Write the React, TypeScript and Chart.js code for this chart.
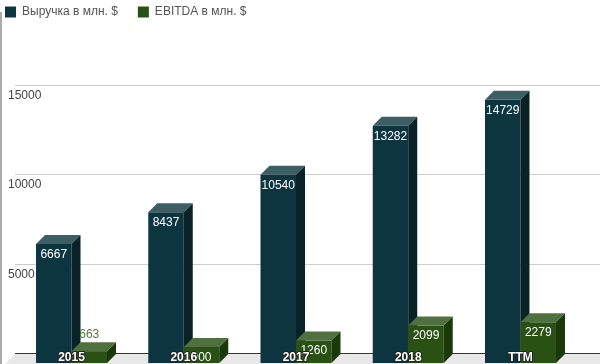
import { useEffect, useRef } from 'react';
import { Chart, registerables } from 'chart.js';

Chart.register(...registerables);

const categories = ['2015', '2016', '2017', '2018', 'TTM'];
const revenue = [6667, 8437, 10540, 13282, 14729];
const ebitda = [663, 900, 1260, 2099, 2279];
const seriesNames = ['Выручка в млн. $', 'EBITDA в млн. $'];
const yMax = 15000;
const yStep = 5000;

const FONT = '"Liberation Sans", Arial, sans-serif';
const FRONT = ['#0d3540', '#2a5114'];
const TOP = ['#3d5e63', '#507040'];
const SIDE = ['#082227', '#1b380b'];
const DX = 9;
const DY = 9;

function poly(ctx: CanvasRenderingContext2D, pts: number[]) {
  ctx.beginPath();
  ctx.moveTo(pts[0], pts[1]);
  for (let i = 2; i < pts.length; i += 2) ctx.lineTo(pts[i], pts[i + 1]);
  ctx.closePath();
  ctx.fill();
}

const threeD = {
  id: 'threeD',
  beforeInit(chart: any) {
    const lg = chart.legend;
    if (lg) {
      const f = lg.fit;
      lg.fit = function () {
        f.call(this);
        this.height = 100;
      };
    }
  },
  beforeDatasetsDraw(chart: any) {
    const { ctx } = chart;
    const y = chart.scales.y;
    const y0 = y.getPixelForValue(0);
    ctx.save();
    ctx.strokeStyle = '#cccccc';
    ctx.lineWidth = 1;
    ctx.font = `12px ${FONT}`;
    ctx.fillStyle = '#444444';
    ctx.textAlign = 'left';
    ctx.textBaseline = 'alphabetic';
    y.ticks.forEach((t: any) => {
      if (t.value <= 0) return;
      const py = Math.round(y.getPixelForValue(t.value)) - 0.5;
      ctx.beginPath();
      ctx.moveTo(15, py);
      ctx.lineTo(chart.width, py);
      ctx.stroke();
      ctx.fillText(String(t.value), 8, py + 13);
    });
    // floor
    ctx.fillStyle = '#e8e8e8';
    poly(ctx, [15, y0, chart.width + 20, y0, chart.width + 9, y0 + 11, 4, y0 + 11]);
    ctx.strokeStyle = '#333333';
    ctx.beginPath();
    ctx.moveTo(15, Math.round(y0) - 0.5);
    ctx.lineTo(chart.width, Math.round(y0) - 0.5);
    ctx.stroke();
    ctx.restore();
  },
  beforeDatasetDraw() {
    return false;
  },
  afterDatasetsDraw(chart: any) {
    const { ctx } = chart;
    const metas = [chart.getDatasetMeta(0), chart.getDatasetMeta(1)];
    const xs = chart.scales.x;
    const y0 = chart.scales.y.getPixelForValue(0);
    const labelsToDraw: any[] = [];
    ctx.save();
    for (let i = 0; i < categories.length; i++) {
      metas.forEach((meta, d) => {
        const el = meta.data[i];
        if (!el) return;
        const p = el.getProps(['x', 'y', 'base', 'width'], true);
        const L = p.x - p.width / 2 - DX;
        const R = p.x + p.width / 2 - DX;
        const T = p.y + DY;
        const B = p.base + DY;
        ctx.fillStyle = FRONT[d];
        ctx.fillRect(L, T, R - L, B - T);
        ctx.fillStyle = TOP[d];
        poly(ctx, [L, T, R, T, R + DX, T - DY, L + DX, T - DY]);
        ctx.fillStyle = SIDE[d];
        poly(ctx, [R, T, R + DX, T - DY, R + DX, B - DY, R, B]);
        const v = chart.data.datasets[d].data[i];
        const inside = B - T >= 14;
        labelsToDraw.push({
          text: String(v),
          x: (L + R) / 2,
          y: inside ? T + 14 : T - DY - 4.5,
          color: inside ? '#ffffff' : '#4f7a3a',
        });
      });
    }
    ctx.font = `12px ${FONT}`;
    ctx.textAlign = 'center';
    ctx.textBaseline = 'alphabetic';
    labelsToDraw.forEach((l) => {
      ctx.fillStyle = l.color;
      ctx.fillText(l.text, l.x, l.y);
    });
    // category labels
    ctx.font = `bold 12px ${FONT}`;
    ctx.lineWidth = 2;
    ctx.lineJoin = 'round';
    ctx.strokeStyle = '#222222';
    ctx.fillStyle = '#ffffff';
    categories.forEach((c, i) => {
      const px = xs.getPixelForValue(i) - DX;
      const py = y0 + DY - 2.5;
      ctx.strokeText(c, px, py);
      ctx.fillText(c, px, py);
    });
    ctx.restore();
  },
};

export default function App() {
  const ref = useRef<HTMLCanvasElement>(null);
  useEffect(() => {
    const chart = new Chart(ref.current as HTMLCanvasElement, {
      type: 'bar',
      data: {
        labels: categories,
        datasets: [
          { label: seriesNames[0], data: revenue, backgroundColor: FRONT[0], borderWidth: 0 },
          { label: seriesNames[1], data: ebitda, backgroundColor: FRONT[1], borderWidth: 0 },
        ],
      },
      options: {
        responsive: false,
        animation: false,
        layout: { padding: { left: -15, right: 14.4, top: -14, bottom: 10 } },
        datasets: { bar: { categoryPercentage: 0.6325, barPercentage: 1 } },
        plugins: {
          legend: {
            position: 'top',
            align: 'start',
            labels: {
              boxWidth: 11,
              boxHeight: 11,
              padding: 20,
              color: '#555555',
              font: { size: 12, family: FONT },
            },
          },
          tooltip: { enabled: false },
        },
        scales: {
          x: { display: false },
          y: {
            display: true,
            min: 0,
            max: yMax,
            ticks: { display: false, stepSize: yStep },
            grid: { display: false },
            border: { display: false },
            afterFit: (s: any) => {
              s.width = 39.4;
            },
          },
        },
      } as any,
      plugins: [threeD as any],
    });
    return () => chart.destroy();
  }, []);
  return (
    <div style={{ position: 'absolute', left: 0, top: 0, width: 600, height: 364, background: '#ffffff' }}>
      <div style={{ position: 'absolute', left: 0, top: 12, width: 2, height: 352, background: '#aaaaaa' }} />
      <canvas ref={ref} width={600} height={364} style={{ position: 'absolute', left: 0, top: 0 }} />
    </div>
  );
}
